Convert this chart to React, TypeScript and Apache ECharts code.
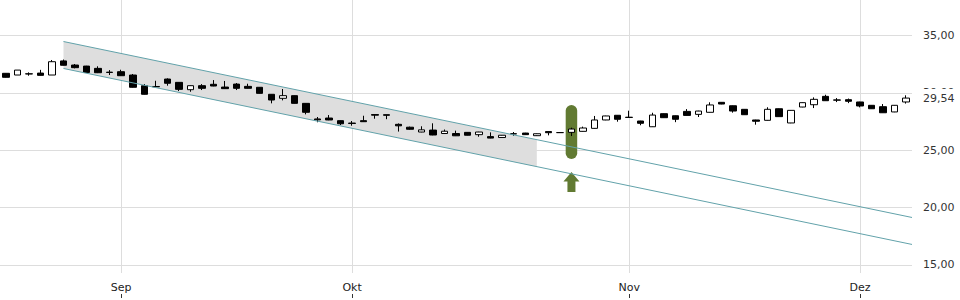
import { useEffect, useRef } from "react";
import * as echarts from "echarts";

// [open, close, low, high]
const ohlc: number[][] = [
  [31.70, 31.35, 31.33, 31.72],
  [31.55, 31.98, 31.55, 31.98],
  [31.64, 31.66, 31.49, 31.78],
  [31.72, 31.52, 31.50, 32.00],
  [31.55, 32.71, 31.55, 32.86],
  [32.78, 32.40, 32.38, 32.90],
  [32.42, 32.19, 32.13, 32.51],
  [32.33, 31.78, 31.76, 32.35],
  [32.13, 31.75, 31.72, 32.31],
  [31.80, 31.77, 31.55, 31.98],
  [31.84, 31.49, 31.47, 32.01],
  [31.55, 30.48, 30.45, 31.64],
  [30.62, 29.87, 29.85, 30.76],
  [30.55, 30.52, 30.48, 31.05],
  [31.20, 30.83, 30.62, 31.26],
  [30.91, 30.30, 30.15, 30.93],
  [30.27, 30.62, 30.09, 30.64],
  [30.62, 30.39, 30.24, 30.76],
  [30.74, 30.59, 30.57, 31.11],
  [30.50, 30.36, 30.34, 31.03],
  [30.76, 30.39, 30.24, 30.85],
  [30.56, 30.39, 30.37, 30.79],
  [30.48, 29.95, 29.93, 30.50],
  [29.87, 29.37, 29.08, 29.89],
  [29.52, 29.75, 29.34, 30.33],
  [29.75, 29.08, 29.06, 29.77],
  [29.08, 28.30, 28.12, 29.10],
  [27.72, 27.64, 27.43, 27.89],
  [27.80, 27.63, 27.61, 28.06],
  [27.57, 27.30, 27.19, 27.59],
  [27.36, 27.33, 27.13, 27.54],
  [27.57, 27.48, 27.46, 28.00],
  [28.10, 28.05, 27.74, 28.10],
  [28.09, 28.04, 27.70, 28.09],
  [27.25, 27.12, 26.62, 27.33],
  [27.00, 26.82, 26.78, 27.05],
  [26.58, 26.77, 26.56, 27.08],
  [26.75, 26.32, 26.30, 27.34],
  [26.45, 26.65, 26.43, 26.80],
  [26.45, 26.25, 26.23, 26.70],
  [26.55, 26.30, 26.28, 26.58],
  [26.35, 26.58, 26.17, 26.60],
  [26.18, 26.05, 26.03, 26.55],
  [26.10, 26.30, 26.08, 26.32],
  [26.43, 26.41, 26.25, 26.58],
  [26.49, 26.35, 26.33, 26.51],
  [26.26, 26.43, 26.24, 26.45],
  [26.62, 26.52, 26.29, 26.64],
  [26.53, 26.53, 26.52, 26.55],
  [26.55, 26.84, 26.23, 26.96],
  [26.64, 26.93, 26.62, 27.05],
  [26.90, 27.63, 26.88, 27.98],
  [27.63, 27.98, 27.61, 28.00],
  [28.04, 27.69, 27.48, 28.06],
  [27.87, 27.85, 27.83, 28.44],
  [27.54, 27.34, 27.17, 27.56],
  [27.04, 28.06, 27.02, 28.26],
  [28.18, 27.83, 27.81, 28.20],
  [28.00, 27.69, 27.44, 28.02],
  [28.38, 28.03, 28.01, 28.58],
  [28.12, 28.41, 27.89, 28.43],
  [28.30, 28.94, 28.28, 29.17],
  [29.17, 29.02, 29.00, 29.19],
  [28.87, 28.41, 28.27, 28.89],
  [28.56, 28.09, 28.07, 28.58],
  [27.63, 27.52, 27.22, 27.65],
  [27.60, 28.56, 27.58, 28.74],
  [28.61, 27.92, 27.90, 28.63],
  [27.37, 28.47, 27.35, 28.49],
  [28.76, 29.14, 28.74, 29.16],
  [28.96, 29.43, 28.67, 29.60],
  [29.69, 29.31, 29.29, 29.83],
  [29.38, 29.36, 29.19, 29.54],
  [29.40, 29.26, 29.10, 29.50],
  [29.20, 28.85, 28.73, 29.22],
  [28.91, 28.61, 28.59, 28.93],
  [28.79, 28.26, 28.24, 29.02],
  [28.33, 28.91, 28.31, 28.93],
  [29.20, 29.54, 29.06, 29.78],
];

const categories = ohlc.map((_, i) => String(i));
const monthIndex = [10, 30, 54, 74];
const monthNames = ["Sep", "Okt", "Nov", "Dez"];
const yTicks = [15, 20, 25, 30, 35];
const yMin = 14.29;
const yMax = 38.09;

// trend channel: [x index, value]
const channelUpper = [[5, 34.47], [78.5, 19.13]];
const channelLower = [[5, 32.12], [78.5, 16.78]];
// shaded band: [x0, upper0, lower0, x1, upper1, lower1]
const band = [[5, 34.47, 32.12, 46, 25.91, 23.56]];
// signal marker: [x index, top, bottom]
const signalBar = [[49, 28.93, 24.23]];
const signalArrow = [[49, 23.1, 21.36]];
const lastPrice = 29.54;

const fmt = (v: number) => v.toFixed(2).replace(".", ",");
const FONT = "DejaVu Sans";

export default function App() {
  const ref = useRef<HTMLDivElement>(null);
  useEffect(() => {
    document.body.style.margin = "0";
    const chart = echarts.init(ref.current!, null, { renderer: "svg" });
    chart.setOption({
      animation: false,
      backgroundColor: "#fff",
      grid: { left: 0, right: 48, top: 0, bottom: 27, containLabel: false, outerBoundsMode: "none" },
      xAxis: [
        {
          type: "category",
          data: categories,
          axisLine: { show: false },
          axisTick: { show: false },
          splitLine: { show: false },
          axisLabel: {
            interval: (i: number) => monthIndex.includes(i),
            formatter: (_v: string, i: number) => monthNames[monthIndex.indexOf(i)] ?? "",
            color: "#222",
            fontSize: 11,
            fontFamily: FONT,
            margin: 9,
          },
        },
        { type: "value", min: -0.5, max: 78.5, show: false },
        {
          type: "category",
          data: categories,
          position: "bottom",
          offset: 21,
          axisLine: { show: false },
          axisLabel: { show: false },
          axisTick: {
            show: true,
            alignWithLabel: true,
            interval: (i: number) => monthIndex.includes(i),
            length: 4,
            lineStyle: { color: "#333" },
          },
        },
      ],
      yAxis: {
        type: "value",
        position: "right",
        min: yMin,
        max: yMax,
        axisLine: { show: false },
        splitLine: { show: false },
        axisTick: { show: true, length: 5, customValues: yTicks, lineStyle: { color: "#333" } },
        axisLabel: {
          customValues: yTicks,
          formatter: (v: number) => fmt(v),
          color: "#333",
          fontSize: 11,
          fontFamily: FONT,
          margin: 11,
        },
      },
      series: [
        {
          type: "custom",
          xAxisIndex: 1,
          z: 1,
          silent: true,
          data: band,
          renderItem: (_p: any, api: any) => {
            const a = api.coord([api.value(0), api.value(1)]);
            const b = api.coord([api.value(3), api.value(4)]);
            const c = api.coord([api.value(3), api.value(5)]);
            const d = api.coord([api.value(0), api.value(2)]);
            return { type: "polygon", shape: { points: [a, b, c, d] }, style: { fill: "#dedede" } };
          },
        },
        {
          type: "custom",
          xAxisIndex: 1,
          z: 2,
          silent: true,
          data: signalBar,
          renderItem: (_p: any, api: any) => {
            const t = api.coord([api.value(0), api.value(1)]);
            const b = api.coord([api.value(0), api.value(2)]);
            const w = 11.5;
            return {
              type: "rect",
              shape: { x: t[0] - w / 2, y: t[1], width: w, height: b[1] - t[1], r: w / 2 },
              style: { fill: "#617a32" },
            };
          },
        },
        {
          type: "custom",
          xAxisIndex: 1,
          z: 2,
          silent: true,
          data: signalArrow,
          renderItem: (_p: any, api: any) => {
            const t = api.coord([api.value(0), api.value(1)]);
            const b = api.coord([api.value(0), api.value(2)]);
            const cx = t[0];
            const hh = (b[1] - t[1]) * 0.48;
            const hw = 8;
            const sw = 4;
            const pts = [
              [cx, t[1]],
              [cx + hw, t[1] + hh],
              [cx + sw, t[1] + hh],
              [cx + sw, b[1]],
              [cx - sw, b[1]],
              [cx - sw, t[1] + hh],
              [cx - hw, t[1] + hh],
            ];
            return { type: "polygon", shape: { points: pts }, style: { fill: "#617a32" } };
          },
        },
        {
          type: "line",
          xAxisIndex: 1,
          z: 4,
          silent: true,
          symbol: "none",
          data: channelUpper,
          lineStyle: { color: "#62a2aa", width: 1 },
          markLine: {
            silent: true,
            z: 1,
            symbol: ["none", "none"],
            label: { show: false },
            lineStyle: { color: "#dddddd", width: 1, type: "solid" },
            data: [
              ...monthIndex.map((i) => ({ xAxis: i })),
              ...yTicks.map((v) => ({ yAxis: v })),
            ],
          },
        },
        {
          type: "line",
          xAxisIndex: 1,
          z: 4,
          silent: true,
          symbol: "none",
          data: channelLower,
          lineStyle: { color: "#62a2aa", width: 1 },
        },
        {
          type: "candlestick",
          xAxisIndex: 0,
          z: 3,
          barWidth: 7,
          data: ohlc,
          itemStyle: {
            color: "#ffffff",
            color0: "#000000",
            borderColor: "#000000",
            borderColor0: "#000000",
            borderColorDoji: "#000000",
            borderWidth: 1,
          },
          markLine: {
            silent: true,
            z: 6,
            symbol: ["none", "none"],
            lineStyle: { color: "rgba(0,0,0,0)", width: 0 },
            label: {
              show: true,
              position: "end",
              distance: 11,
              formatter: () => fmt(lastPrice),
              color: "#333",
              opacity: 1,
              fontSize: 11,
              lineHeight: 13,
              fontFamily: FONT,
              backgroundColor: "#ffffff",
              padding: [4, 2, 1, 0],
            },
            data: [{ yAxis: lastPrice }],
          },
        },
      ],
    });
    return () => chart.dispose();
  }, []);
  return <div ref={ref} style={{ width: 960, height: 300 }} />;
}
